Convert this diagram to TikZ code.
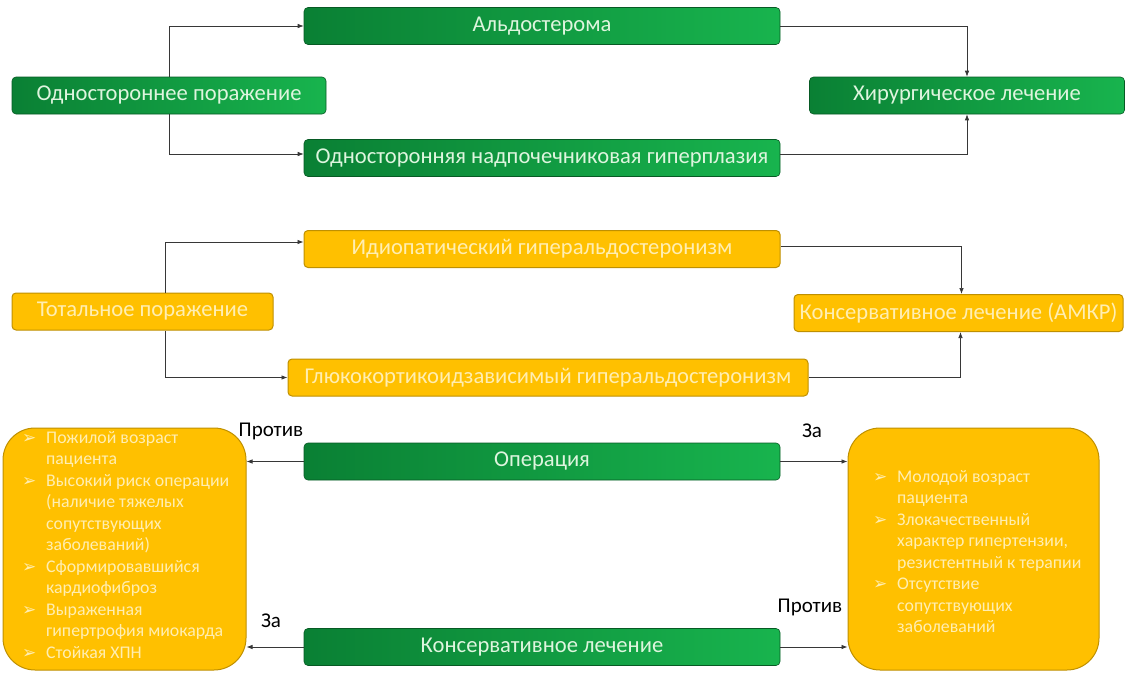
\documentclass[tikz,border=0pt]{standalone}
\usepackage{fontspec}
\setmainfont{Carlito}
\newfontfamily\symfont{DejaVu Sans}
\usetikzlibrary{positioning, arrows.meta}
\definecolor{grDark}{RGB}{10,128,52}
\definecolor{grLight}{RGB}{24,180,78}
\definecolor{grText}{RGB}{222,245,222}
\definecolor{yeFill}{RGB}{255,192,0}
\definecolor{yeLine}{RGB}{191,144,0}
\definecolor{yeText}{RGB}{255,238,178}
\definecolor{arrGray}{RGB}{55,55,55}
\tikzset{greenbox/.style={rounded corners=4pt, left color=grDark, right color=grLight, draw=grDark!70!black, line width=.6pt, text=grText, font=\fontsize{22.6}{26}\selectfont, minimum height=37pt, inner sep=0pt},
	yellowbox/.style={rounded corners=4pt, fill=yeFill, draw=yeLine, line width=1pt, text=yeText, font=\fontsize{22.6}{26}\selectfont, minimum height=37pt, inner sep=0pt},
	bigbox/.style={rounded corners=32pt, fill=yeFill, draw=yeLine, line width=1pt},
	listtext/.style={align=left, inner sep=0pt, text=yeText, font=\fontsize{17.8}{21.5}\selectfont},
	arr/.style={-{Latex[length=6pt,width=4.5pt]}, draw=arrGray, line width=.7pt},
	side/.style={font=\fontsize{21}{24}\selectfont, text=black, inner sep=0pt}}
\newcommand{\bl}{\makebox[24pt][l]{\symfont\fontsize{17}{15}\selectfont ➢}}
\newcommand{\ind}{\hspace*{24pt}}
\begin{document}
\begin{tikzpicture}[x=1pt, y=-1pt]
	\useasboundingbox (0,0) rectangle (1129,672);
	%einseitig
	\node (aldo)  [greenbox, minimum width=476pt] at (542,26) {Альдостерома};
	\node (odno)  [greenbox, minimum width=314pt] at (169,95.5) {Одностороннее поражение};
	\node (hir)   [greenbox, minimum width=315pt] at (967,95.5) {Хирургическое лечение};
	\node (giper) [greenbox, minimum width=476pt] at (542,158) {Односторонняя надпочечниковая гиперплазия};
	%beidseitig
	\node (idio)  [yellowbox, minimum width=476pt] at (542,249) {Идиопатический гиперальдостеронизм};
	\node (total) [yellowbox, minimum width=261pt] at (142.5,311.5) {Тотальное поражение};
	\node (kons)  [yellowbox, minimum width=329pt] at (958.5,313) {Консервативное лечение (АМКР)};
	\node (gluko) [yellowbox, minimum width=520pt] at (548,377.5) {Глюкокортикоидзависимый гиперальдостеронизм};
	%Verbindungen
	\draw[arr] (odno.north) |- (aldo.west);
	\draw[arr] (odno.south) |- ([yshift=4pt]giper.west);
	\draw[arr] (aldo.east) -| (hir.north);
	\draw[arr] ([yshift=4pt]giper.east) -| (hir.south);
	\draw[arr] ([xshift=23pt]total.north) |- ([yshift=7pt]idio.west);
	\draw[arr] ([xshift=23pt]total.south) |- (gluko.west);
	\draw[arr] ([yshift=3pt]idio.east) -| ([xshift=3pt]kons.north);
	\draw[arr] (gluko.east) -| ([xshift=2pt]kons.south);
	%Therapie
	\node (lbox) [bigbox, minimum width=243pt, minimum height=242pt] at (124.5,549) {};
	\node (rbox) [bigbox, minimum width=251pt, minimum height=242pt] at (973.5,549) {};
	\node (oper)  [greenbox, minimum width=476pt] at (542,461.5) {Операция};
	\node (konsl) [greenbox, minimum width=476pt] at (542,647) {Консервативное лечение};
	\draw[arr] (oper.west) -- (oper.west -| lbox.east);
	\draw[arr] (oper.east) -- (oper.east -| rbox.west);
	\draw[arr] (konsl.west) -- (konsl.west -| lbox.east);
	\draw[arr] (konsl.east) -- (konsl.east -| rbox.west);
	\node (protiv1) [side] at (271,431) {Против};
	\node (za1)     [side] at (812,431) {За};
	\node (za2)     [side] at (271,621) {За};
	\node (protiv2) [side] at (810,607) {Против};
	%Listen
	\node (ltext) [listtext, anchor=north west] at (22,431) {\bl Пожилой возраст\\ \ind пациента\\ \bl Высокий риск операции\\ \ind (наличие тяжелых\\ \ind сопутствующих\\ \ind заболеваний)\\ \bl Сформировавшийся\\ \ind кардиофиброз\\ \bl Выраженная\\ \ind гипертрофия миокарда\\ \bl Стойкая ХПН};
	\node (rtext) [listtext, anchor=north west] at (873,470) {\bl Молодой возраст\\ \ind пациента\\ \bl Злокачественный\\ \ind характер гипертензии,\\ \ind резистентный к терапии\\ \bl Отсутствие\\ \ind сопутствующих\\ \ind заболеваний};
\end{tikzpicture}
\end{document}
